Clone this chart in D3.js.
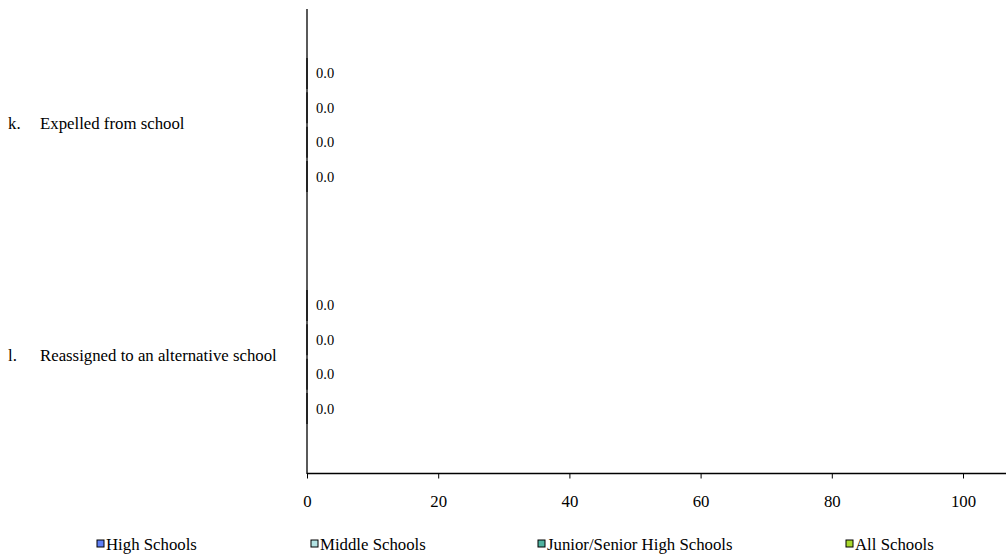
<!DOCTYPE html>
<html><head><meta charset="utf-8">
<script src="https://cdn.jsdelivr.net/npm/d3@7"></script>
<style>body{margin:0;background:#fff}svg{display:block}svg text{font-family:"Liberation Serif","Times New Roman","DejaVu Serif",serif !important;fill:#000}</style>
</head><body><svg id="c" width="1006" height="557"></svg>
<script>
const catLetters = ["k.", "l."];
const catNames = ["Expelled from school", "Reassigned to an alternative school"];
const seriesNames = ["High Schools", "Middle Schools", "Junior/Senior High Schools", "All Schools"];
const seriesColors = ["#5f7ff5", "#b3e3e3", "#4fb3a0", "#a8d82c"];
const highSchools = [0.0, 0.0];
const middleSchools = [0.0, 0.0];
const juniorSenior = [0.0, 0.0];
const allSchools = [0.0, 0.0];
const xTicks = [0, 20, 40, 60, 80, 100];

const values = [highSchools, middleSchools, juniorSenior, allSchools];
const FONT = "Liberation Serif, Times New Roman, serif";
const svg = d3.select("#c");
const x = d3.scaleLinear().domain([0, 120]).range([307, 307 + 6 * 131.2]);
const y = d3.scaleBand().domain(d3.range(catNames.length)).range([9, 473]);
const inner = d3.scaleBand().domain(d3.range(seriesNames.length)).range([49, 183]).paddingInner(0.1);

const g = svg.append("g");
catNames.forEach((c, i) => {
  seriesNames.forEach((s, j) => {
    const v = values[j][i];
    const y0 = y(i) + inner(j);
    const y1 = y0 + inner.bandwidth();
    const x0 = x(0), x1 = x(v);
    g.append("path").attr("d", `M${x0},${y0}H${x1}V${y1}H${x0}Z`)
      .attr("fill", seriesColors[j]).attr("stroke", "#000").attr("stroke-width", 1.2);
    g.append("text").attr("x", x1 + 9).attr("y", (y0 + y1)/2 + 5)
      .attr("font-size", 14.5).attr("font-family", FONT).text(v.toFixed(1));
  });
  const cy = y(i) + y.bandwidth()/2 + 3.5;
  g.append("text").attr("x", 8).attr("y", cy).attr("font-size", 16.8).attr("font-family", FONT).text(catLetters[i]);
  g.append("text").attr("x", 40).attr("y", cy).attr("font-size", 16.8).attr("font-family", FONT).text(catNames[i]);
});

// y axis line
svg.append("line").attr("x1", 307).attr("x2", 307).attr("y1", 9).attr("y2", 474).attr("stroke", "#000").attr("stroke-width", 1.3);
// x axis
const xa = svg.append("g").attr("transform", "translate(0,473.5)")
  .call(d3.axisBottom(x).tickValues(xTicks).tickSize(5).tickFormat(d3.format("d")));
xa.select(".domain").attr("stroke-width", 1.3).attr("d", "M307,0H1006");
xa.selectAll("text").attr("font-size", 16.8).attr("font-family", FONT).attr("y", 33).attr("dy", 0);

// legend
const legX = [97, 311, 538, 846];
seriesNames.forEach((s, j) => {
  svg.append("rect").attr("x", legX[j]).attr("y", 540).attr("width", 7).attr("height", 7)
    .attr("fill", seriesColors[j]).attr("stroke", "#000").attr("stroke-width", 1);
  svg.append("text").attr("x", legX[j] + 9).attr("y", 549.5).attr("font-size", 16.8).attr("font-family", FONT).text(s);
});
</script></body></html>
